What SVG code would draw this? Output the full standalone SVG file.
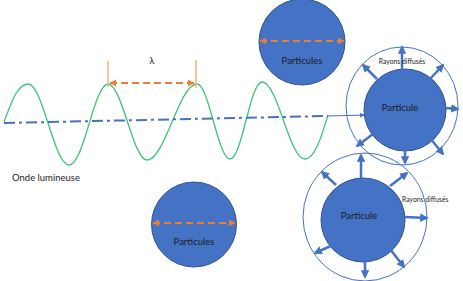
<svg xmlns="http://www.w3.org/2000/svg" width="463" height="281" viewBox="0 0 463 281">
<defs>
<style>
.lbl{font-family:Lato,"Liberation Sans",sans-serif;fill:#1c1c24}
.part{fill:#4472C4;stroke:#2F528F;stroke-width:1}
.ring{fill:none;stroke:#4472C4;stroke-width:1}
.ray{stroke:#4472C4;stroke-width:2.5;fill:none;marker-end:url(#bh)}
.od{stroke:#ED7D31;stroke-width:2;stroke-dasharray:7 4;fill:none;marker-start:url(#os);marker-end:url(#oe)}
.ov{stroke:#F4B183;stroke-width:1.5}
</style>
<marker id="bh" viewBox="0 0 10 10" refX="8" refY="5" markerWidth="3.4" markerHeight="3.4" orient="auto"><path d="M0,0 L10,5 L0,10 z" fill="#4472C4"/></marker>
<marker id="ah" viewBox="0 0 10 10" refX="9" refY="5" markerWidth="6" markerHeight="6" orient="auto"><path d="M0,1 L10,5 L0,9 z" fill="#4472C4"/></marker>
<marker id="oe" viewBox="0 0 10 10" refX="9" refY="5" markerWidth="3.5" markerHeight="3.5" orient="auto"><path d="M0,0 L10,5 L0,10 z" fill="#ED7D31"/></marker>
<marker id="os" viewBox="0 0 10 10" refX="1" refY="5" markerWidth="3.5" markerHeight="3.5" orient="auto"><path d="M10,0 L0,5 L10,10 z" fill="#ED7D31"/></marker>
</defs>
<rect width="463" height="281" fill="#ffffff"/>

<g id="wave">
<path d="M4,122 C12,100 18,84 28,84 C43,84 54,165 69,165 C84,165 94,84 108,84 C122,84 133,160 147,160 C165,160 179,84 197,84 C209,84 218,159 230,159 C242,159 250,82 262,82 C278,82 289,159 305,159 C315,159 322,135 328,115" fill="none" stroke="#3DC47A" stroke-width="1.3"/>
<text class="lbl" x="12" y="181" font-size="9.5">Onde lumineuse</text>
</g>

<g id="lambda">
<line class="ov" x1="108" y1="61" x2="108" y2="87"/>
<line class="ov" x1="196" y1="60" x2="196" y2="88"/>
<line class="od" x1="110" y1="83" x2="194" y2="83"/>
<text class="lbl" x="152" y="64" font-size="9" text-anchor="middle">λ</text>
</g>

<g id="connectors">
<line x1="4" y1="123" x2="328" y2="116" stroke="#4472C4" stroke-width="2" stroke-dasharray="11 4 3 4"/>
<line x1="328" y1="116" x2="365" y2="115" stroke="#4472C4" stroke-width="1" marker-end="url(#ah)"/>
</g>

<g id="particules-top">
<circle class="part" cx="302" cy="42" r="43"/>
<line class="od" x1="260" y1="41" x2="344" y2="41"/>
<text class="lbl" x="302" y="64" font-size="9.5" text-anchor="middle">Particules</text>
</g>

<g id="particules-bottom">
<circle class="part" cx="194" cy="224.5" r="42.5"/>
<line class="od" x1="153" y1="223" x2="235" y2="223"/>
<text class="lbl" x="194" y="245" font-size="9.5" text-anchor="middle">Particules</text>
</g>

<g id="scatter-1">
<ellipse class="ring" cx="402" cy="106" rx="56" ry="59"/>
<circle class="part" cx="405" cy="110" r="41"/>
<line class="ray" x1="402" y1="72" x2="402" y2="47"/>
<line class="ray" x1="377" y1="79" x2="363" y2="65"/>
<line class="ray" x1="430" y1="79" x2="443" y2="65"/>
<line class="ray" x1="446" y1="108" x2="458" y2="109"/>
<line class="ray" x1="373" y1="134" x2="357" y2="146"/>
<line class="ray" x1="405" y1="148" x2="405" y2="163"/>
<line class="ray" x1="430" y1="138" x2="443" y2="154"/>
<text class="lbl" x="402" y="64" font-size="6.8" text-anchor="middle">Rayons diffusés</text>
<text class="lbl" x="400" y="111" font-size="9.5" text-anchor="middle">Particule</text>
</g>

<g id="scatter-2">
<ellipse class="ring" cx="365" cy="217" rx="62" ry="64"/>
<circle class="part" cx="363" cy="220" r="42"/>
<line class="ray" x1="361" y1="178" x2="361" y2="155"/>
<line class="ray" x1="336" y1="185" x2="322" y2="172"/>
<line class="ray" x1="390" y1="186" x2="407" y2="173"/>
<line class="ray" x1="405" y1="217" x2="427" y2="218"/>
<line class="ray" x1="333" y1="245" x2="315" y2="253"/>
<line class="ray" x1="365" y1="262" x2="365" y2="277"/>
<line class="ray" x1="390" y1="249" x2="404" y2="267"/>
<text class="lbl" x="402" y="202" font-size="6.8">Rayons diffusés</text>
<text class="lbl" x="359" y="219" font-size="9.5" text-anchor="middle">Particule</text>
</g>
</svg>
